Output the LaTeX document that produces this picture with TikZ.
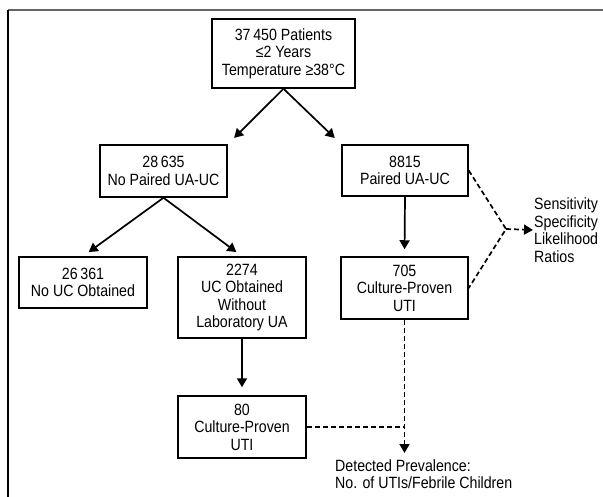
\documentclass[tikz,border=0pt]{standalone}
\usepackage{fontspec}
\setmainfont{Liberation Sans}[FakeStretch=0.87]
\usetikzlibrary{arrows.meta,calc}

\begin{document}
\begin{tikzpicture}[x=1pt, y=-1pt,
    box/.style={draw, line width=1.5pt, align=center, inner sep=0pt,
        font=\fontsize{16.3}{17.5}\selectfont},
    arr/.style={line width=1.7pt, -{Triangle[length=9pt,width=10pt]}},
    dsh/.style={line width=1.7pt, dash pattern=on 5pt off 3pt},
    txt/.style={align=left, inner sep=0pt, font=\fontsize{16.3}{17.5}\selectfont}]
    \useasboundingbox (0,0) rectangle (603,497);
    % cornice
    \draw[line width=2.2pt, black!60] (8,10) -- (603,10);
    \draw[line width=1.8pt] (8,10) -- (8,497);

    % livello 1 e 2
    \node[box, minimum width=143pt, minimum height=69pt] (top) at (283.5,53.5)
        {37\,450 Patients\\ ≤2 Years\\ Temperature ≥38°C};
    \node[box, minimum width=127pt, minimum height=52pt] (nopair) at (163.5,171)
        {28\,635\\ No Paired UA-UC};
    \node[box, minimum width=126pt, minimum height=51pt] (pair) at (405,170.5)
        {8815\\ Paired UA-UC};

    % livello 3
    \node[box, minimum width=128pt, minimum height=51pt] (nouc) at (83,282.5)
        {26\,361\\ No UC Obtained};
    \node[box, minimum width=128pt, minimum height=81pt] (ucobt) at (242,297.5)
        {2274\\ UC Obtained\\ Without\\ Laboratory UA};
    \node[box, minimum width=127pt, minimum height=62pt] (cpA) at (404.5,288)
        {705\\ Culture-Proven\\ UTI};
    \node[box, minimum width=128pt, minimum height=62pt] (cpB) at (242,427)
        {80\\ Culture-Proven\\ UTI};

    % esiti
    \node[txt, anchor=west] (sens) at (534,230)
        {Sensitivity\\ Specificity\\ Likelihood\\ Ratios};
    \node[txt, anchor=north west] (prev) at (335,459)
        {Detected Prevalence:\\ No. of UTIs/Febrile Children};
    \coordinate (join) at (506,229);
    \coordinate (merge) at (cpA.south |- cpB.east);

    \draw[arr, shorten >=9pt] (top.south) -- (nopair.north east);
    \draw[arr, shorten >=9pt] (top.south) -- (pair.north west);
    \draw[arr, shorten >=7pt] (nopair.south) -- (nouc.north);
    \draw[arr, shorten >=7pt] (nopair.south) -- (ucobt.north);
    \draw[arr, shorten >=7pt] (pair.south) -- (cpA.north);
    \draw[arr, shorten >=8pt] (ucobt.south) -- (cpB.north);

    \draw[dsh] (pair.east) -- (join) -- (cpA.east);
    \draw[dsh, arr, shorten >=1pt] (join) -- (sens.west);
    \draw[dsh] (cpB.east) -- (merge);
    \draw[dsh, arr, shorten >=6pt] (cpA.south) -- (merge |- prev.north);
\end{tikzpicture}
\end{document}
